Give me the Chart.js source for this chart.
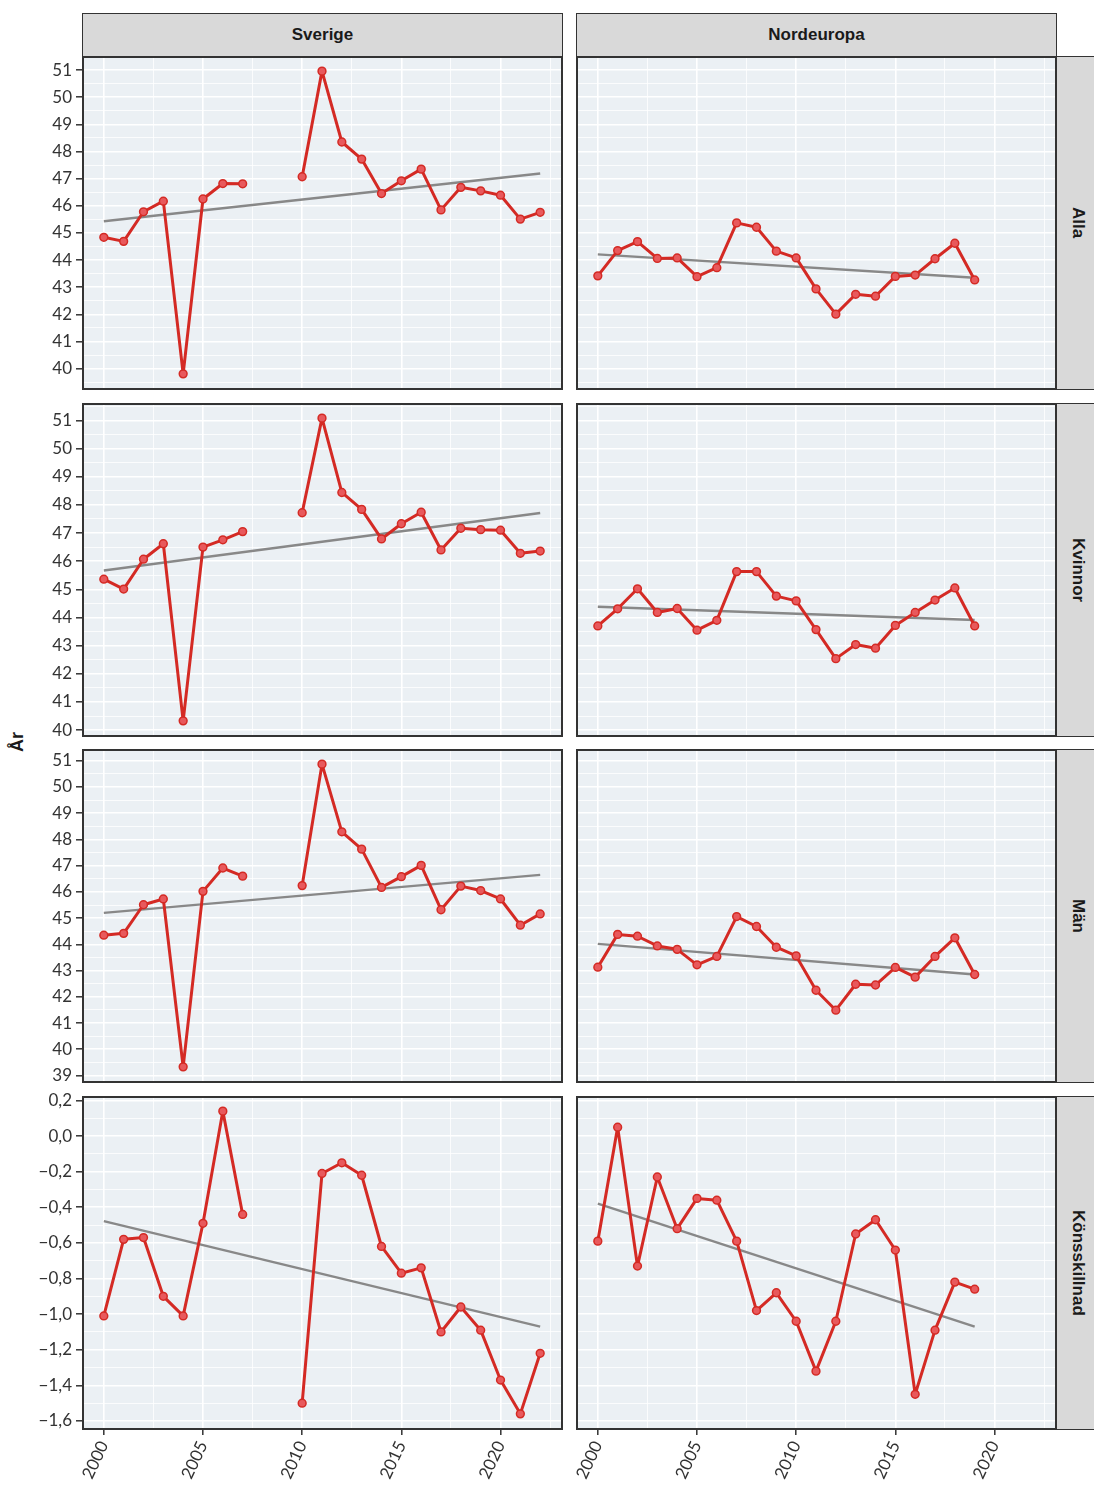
<!DOCTYPE html>
<html><head><meta charset="utf-8">
<script src="https://cdn.jsdelivr.net/npm/chart.js@4.4.1/dist/chart.umd.min.js"></script>
<style>
html,body{margin:0;padding:0;background:#fff}
body{width:1094px;height:1492px;position:relative;overflow:hidden;font-family:Lato,"Liberation Sans",sans-serif}
canvas{position:absolute}
.strip{position:absolute;background:#d9d9d9;border:1.5px solid #333;box-sizing:border-box;display:flex;align-items:center;justify-content:center;font:bold 17px "Liberation Sans",Arial,sans-serif;color:#1a1a1a}
.vstrip{writing-mode:vertical-rl}
.frame{position:absolute;border:2px solid #333;box-sizing:border-box;pointer-events:none}
#ytitle{position:absolute;left:4px;top:730px;width:30px;height:24px;transform:rotate(-90deg);font:bold 18px "Liberation Sans",Arial,sans-serif;color:#1a1a1a;text-align:center}
</style></head><body>
<div id="ytitle">År</div>
<script>
// ---- data ----
const columns = ['Sverige', 'Nordeuropa'];
const rowLabels = ['Alla', 'Kvinnor', 'Män', 'Könsskillnad'];
const yearsSverige = [2000,2001,2002,2003,2004,2005,2006,2007,2008,2009,2010,2011,2012,2013,2014,2015,2016,2017,2018,2019,2020,2021,2022];
const yearsNord = [2000,2001,2002,2003,2004,2005,2006,2007,2008,2009,2010,2011,2012,2013,2014,2015,2016,2017,2018,2019];

const sverigeAlla = [44.84,44.69,45.78,46.17,39.81,46.25,46.82,46.81,null,null,47.07,50.96,48.35,47.72,46.45,46.92,47.35,45.85,46.68,46.55,46.39,45.51,45.76];
const nordAlla = [43.42,44.35,44.68,44.06,44.08,43.39,43.72,45.37,45.21,44.33,44.08,42.94,42.01,42.74,42.67,43.40,43.45,44.05,44.62,43.27];
const sverigeKvinnor = [45.36,45.01,46.07,46.62,40.33,46.50,46.76,47.05,null,null,47.72,51.08,48.44,47.84,46.79,47.33,47.74,46.40,47.17,47.12,47.10,46.28,46.36];
const nordKvinnor = [43.70,44.31,45.02,44.18,44.32,43.55,43.90,45.63,45.63,44.76,44.59,43.57,42.54,43.04,42.91,43.72,44.18,44.62,45.05,43.70];
const sverigeMan = [44.35,44.42,45.51,45.73,39.33,46.02,46.91,46.60,null,null,46.24,50.87,48.29,47.63,46.17,46.58,47.01,45.32,46.22,46.05,45.73,44.73,45.16];
const nordMan = [43.13,44.38,44.31,43.94,43.81,43.22,43.54,45.06,44.68,43.89,43.56,42.25,41.49,42.48,42.45,43.12,42.75,43.54,44.25,42.85];
const sverigeDiff = [-1.01,-0.58,-0.57,-0.90,-1.01,-0.49,0.14,-0.44,null,null,-1.50,-0.21,-0.15,-0.22,-0.62,-0.77,-0.74,-1.10,-0.96,-1.09,-1.37,-1.56,-1.22];
const nordDiff = [-0.59,0.05,-0.73,-0.23,-0.52,-0.35,-0.36,-0.59,-0.98,-0.88,-1.04,-1.32,-1.04,-0.55,-0.47,-0.64,-1.45,-1.09,-0.82,-0.86];

// linear trend endpoints (first and last year of each series)
const trendSverigeStart = [45.43, 45.67, 45.20, -0.478];
const trendSverigeEnd   = [47.19, 47.71, 46.65, -1.070];
const trendNordStart    = [44.21, 44.38, 44.02, -0.379];
const trendNordEnd      = [43.35, 43.91, 42.85, -1.070];

const xMajorTicks = [2000, 2005, 2010, 2015, 2020];
const yMajorStep = [1, 1, 1, 0.2];
const yDecimals = [0, 0, 0, 1];

// ---- layout ----
const seriesSverige = [sverigeAlla, sverigeKvinnor, sverigeMan, sverigeDiff];
const seriesNord = [nordAlla, nordKvinnor, nordMan, nordDiff];
const colLeft = [82, 576], colW = 480;
const rowTop = [56, 403, 749, 1096], rowH = 333;
const TOPPAD = 10;
const XMIN = 1998.9, XMAX = 2023.1;
const RED = '#d42a24', FONT = 'Lato, "Liberation Sans", sans-serif';

function near(a, b){ return Math.abs(a - b) < 1e-6; }
function isMult(v, step){ return near(v/step, Math.round(v/step)); }
function fmt(v, dec){
  let s = v.toFixed(dec);
  if (s === '-0' || s === '-0.0') s = s.slice(1);
  return s.replace('.', ',').replace('-', '\u2212');
}
function noPad(s){ s.paddingTop = 0; s.paddingBottom = 0; s.paddingLeft = 0; s.paddingRight = 0; }

function addDiv(cls, l, t, w, h, text){
  const d = document.createElement('div'); d.className = cls;
  d.style.left = l + 'px'; d.style.top = t + 'px'; d.style.width = w + 'px'; d.style.height = h + 'px';
  if (text) d.textContent = text;
  document.body.appendChild(d); return d;
}

// strips
columns.forEach((c, i) => addDiv('strip', colLeft[i], 13, colW + 1, 44, c));
rowLabels.forEach((r, i) => addDiv('strip vstrip', colLeft[1] + colW - 1, rowTop[i], 46, rowH + 1, r));

rowLabels.forEach((rl, r) => {
  const all = [...seriesSverige[r], ...seriesNord[r], trendSverigeStart[r], trendSverigeEnd[r], trendNordStart[r], trendNordEnd[r]].filter(v => v !== null);
  const lo = Math.min(...all), hi = Math.max(...all), pad = (hi - lo) * 0.05;
  const ymin = lo - pad, ymax = hi + pad;
  const step = yMajorStep[r], half = step / 2;
  const yt = [];
  for (let k = Math.ceil(ymin / half); k * half <= ymax + 1e-9; k++) yt.push(+(k * half).toFixed(6));
  const xt = [];
  for (let k = Math.ceil(XMIN / 2.5); k * 2.5 <= XMAX; k++) xt.push(k * 2.5);
  const bottom = r === 3;

  [0, 1].forEach(c => {
    const years = c === 0 ? yearsSverige : yearsNord;
    const vals = c === 0 ? seriesSverige[r] : seriesNord[r];
    const tS = c === 0 ? trendSverigeStart[r] : trendNordStart[r];
    const tE = c === 0 ? trendSverigeEnd[r] : trendNordEnd[r];
    const left = c === 0 ? 0 : colLeft[1];
    const width = c === 0 ? colLeft[0] + colW : colW;
    const cv = document.createElement('canvas');
    cv.width = width; cv.height = TOPPAD + rowH + (bottom ? 66 : 0);
    cv.style.left = left + 'px'; cv.style.top = (rowTop[r] - TOPPAD) + 'px';
    document.body.appendChild(cv);

    new Chart(cv, {
      type: 'line',
      data: { datasets: [
        { data: years.map((y, i) => ({x: y, y: vals[i]})), borderColor: RED, borderWidth: 3,
          borderJoinStyle: 'round', borderCapStyle: 'round',
          pointRadius: 3.9, pointBorderWidth: 1.5, pointBackgroundColor: '#e8595c', pointBorderColor: RED,
          spanGaps: false, order: 0, tension: 0 },
        { data: [{x: years[0], y: tS}, {x: years[years.length - 1], y: tE}], borderColor: '#888888',
          borderWidth: 2.4, pointRadius: 0, order: 1 }
      ]},
      options: {
        responsive: false, animation: false, devicePixelRatio: 1,
        layout: { padding: { top: TOPPAD, left: 0, right: 0, bottom: 0 }, autoPadding: false },
        plugins: { legend: { display: false }, tooltip: { enabled: false } },
        scales: {
          x: {
            type: 'linear', min: XMIN, max: XMAX,
            afterBuildTicks: s => { s.ticks = xt.map(v => ({ value: v })); },
            afterFit: s => { s.height = bottom ? 66 : 0; noPad(s); },
            border: { display: false },
            grid: { color: '#ffffff', lineWidth: ctx => (ctx.tick && isMult(ctx.tick.value, 5)) ? 1.6 : 0.8,
                    drawTicks: bottom, tickLength: 6, tickWidth: 1.5,
                    tickColor: ctx => (ctx.tick && isMult(ctx.tick.value, 5)) ? '#333333' : 'rgba(0,0,0,0)' },
            ticks: { display: bottom, autoSkip: false, maxRotation: 65, minRotation: 65, padding: 3,
                     color: '#333333', font: { size: 17, family: FONT },
                     callback: v => xMajorTicks.some(m => near(m, v)) ? String(v) : '' }
          },
          y: {
            type: 'linear', min: ymin, max: ymax,
            afterBuildTicks: s => { s.ticks = yt.map(v => ({ value: v })); },
            afterFit: s => { s.width = c === 0 ? colLeft[0] : 0; noPad(s); },
            border: { display: false },
            grid: { color: '#ffffff', lineWidth: ctx => (ctx.tick && isMult(ctx.tick.value, step)) ? 1.6 : 0.8,
                    drawTicks: c === 0, tickLength: 6, tickWidth: 1.5,
                    tickColor: ctx => (ctx.tick && isMult(ctx.tick.value, step)) ? '#333333' : 'rgba(0,0,0,0)' },
            ticks: { display: c === 0, autoSkip: false, padding: 4, color: '#333333', font: { size: 17, family: FONT },
                     callback: v => isMult(v, step) ? fmt(v, yDecimals[r]) : '' }
          }
        }
      },
      plugins: [{ id: 'bg', beforeDraw(ch) { const a = ch.chartArea, g = ch.ctx; g.save(); g.fillStyle = '#ebf0f4'; g.fillRect(a.left, a.top, a.right - a.left, a.bottom - a.top); g.restore(); } }]
    });
    addDiv('frame', colLeft[c], rowTop[r], colW + 1, rowH + 1);
  });
});
</script>
</body></html>
